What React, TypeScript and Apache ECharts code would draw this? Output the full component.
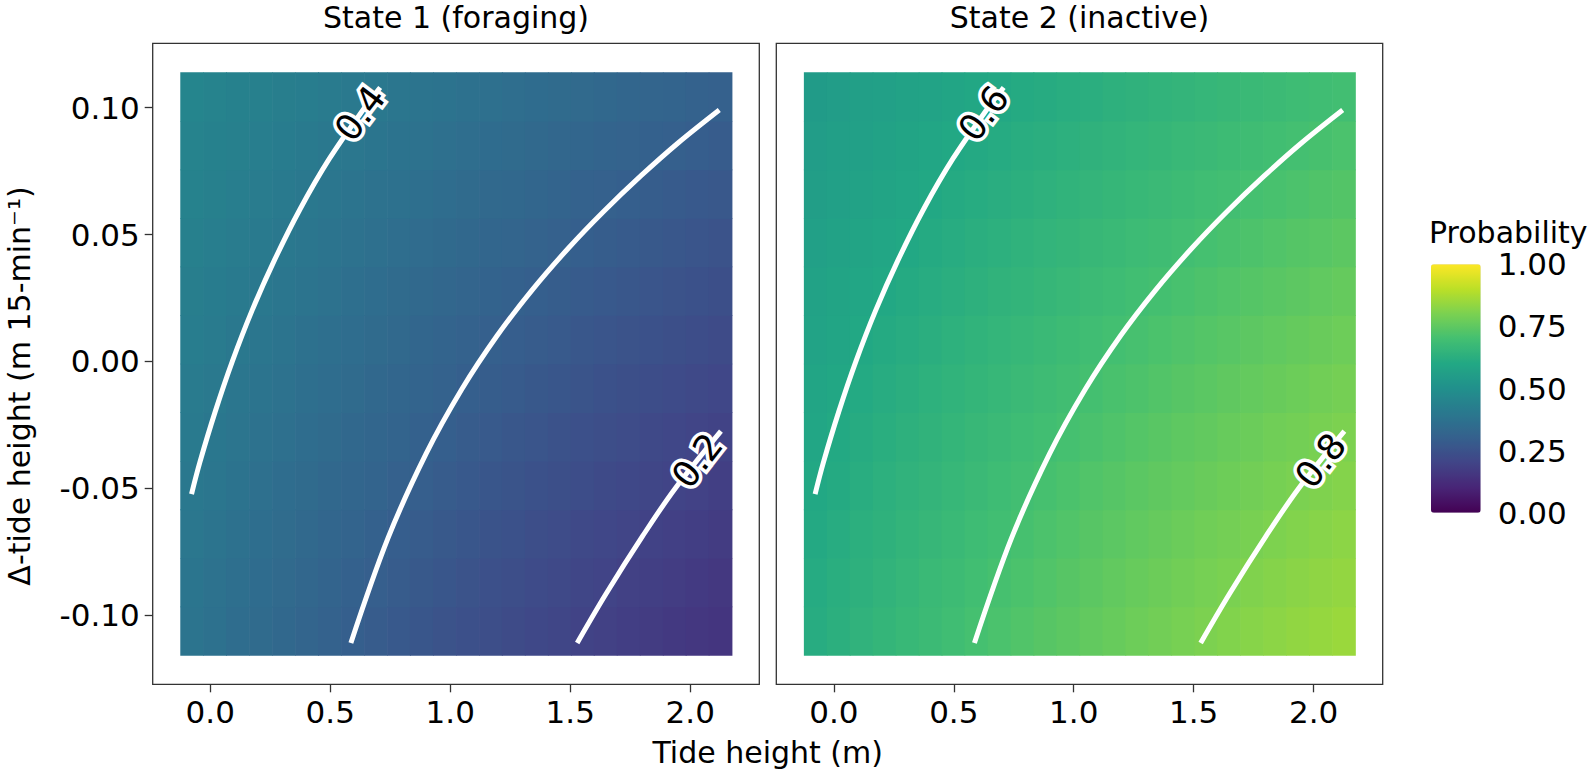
import React, { useEffect, useRef } from "react";
import * as echarts from "echarts";

// ---------------- data ----------------
const panelTitles = ["State 1 (foraging)", "State 2 (inactive)"];
const xTicks = [0, 0.5, 1, 1.5, 2];
const yTicks = [-0.1, -0.05, 0, 0.05, 0.1];
const legendTicks = [0, 0.25, 0.5, 0.75, 1];

// raster cell centres (tide height, delta tide height)
const xCenters = [-0.077, 0.019, 0.114, 0.21, 0.306, 0.402, 0.497, 0.593, 0.689, 0.785, 0.88, 0.976, 1.072, 1.168, 1.263, 1.359, 1.455, 1.551, 1.646, 1.742, 1.838, 1.934, 2.029, 2.125];
const yCenters = [-0.1062, -0.0871, -0.0679, -0.0488, -0.0296, -0.0105, 0.0087, 0.0278, 0.047, 0.0661, 0.0852, 0.1044];

// probability of state 1 (rows follow yCenters, columns follow xCenters)
const state1Rows = [
  [0.382, 0.369, 0.356, 0.344, 0.332, 0.32, 0.308, 0.297, 0.286, 0.275, 0.264, 0.254, 0.244, 0.234, 0.224, 0.215, 0.206, 0.197, 0.189, 0.18, 0.173, 0.165, 0.158, 0.151],
  [0.388, 0.376, 0.364, 0.352, 0.34, 0.328, 0.317, 0.306, 0.295, 0.285, 0.274, 0.264, 0.254, 0.244, 0.235, 0.226, 0.217, 0.208, 0.2, 0.191, 0.183, 0.176, 0.168, 0.161],
  [0.394, 0.383, 0.371, 0.36, 0.348, 0.337, 0.326, 0.315, 0.305, 0.294, 0.284, 0.274, 0.264, 0.255, 0.246, 0.237, 0.228, 0.219, 0.211, 0.203, 0.195, 0.187, 0.18, 0.173],
  [0.401, 0.39, 0.378, 0.367, 0.356, 0.346, 0.335, 0.325, 0.315, 0.304, 0.295, 0.285, 0.275, 0.266, 0.257, 0.248, 0.24, 0.231, 0.223, 0.215, 0.207, 0.199, 0.192, 0.185],
  [0.407, 0.397, 0.386, 0.375, 0.365, 0.355, 0.344, 0.334, 0.325, 0.315, 0.305, 0.296, 0.287, 0.278, 0.269, 0.26, 0.251, 0.243, 0.235, 0.227, 0.219, 0.212, 0.204, 0.197],
  [0.414, 0.403, 0.393, 0.383, 0.373, 0.363, 0.354, 0.344, 0.335, 0.325, 0.316, 0.307, 0.298, 0.289, 0.281, 0.272, 0.264, 0.256, 0.248, 0.24, 0.232, 0.225, 0.217, 0.21],
  [0.42, 0.411, 0.401, 0.391, 0.382, 0.372, 0.363, 0.354, 0.345, 0.336, 0.327, 0.318, 0.31, 0.301, 0.293, 0.285, 0.277, 0.269, 0.261, 0.253, 0.246, 0.239, 0.231, 0.224],
  [0.427, 0.418, 0.409, 0.399, 0.39, 0.382, 0.373, 0.364, 0.355, 0.347, 0.338, 0.33, 0.322, 0.314, 0.306, 0.298, 0.29, 0.282, 0.275, 0.267, 0.26, 0.253, 0.246, 0.239],
  [0.433, 0.425, 0.416, 0.408, 0.399, 0.391, 0.382, 0.374, 0.366, 0.358, 0.35, 0.342, 0.334, 0.326, 0.319, 0.311, 0.303, 0.296, 0.289, 0.282, 0.274, 0.267, 0.261, 0.254],
  [0.44, 0.432, 0.424, 0.416, 0.408, 0.4, 0.392, 0.384, 0.377, 0.369, 0.361, 0.354, 0.346, 0.339, 0.332, 0.324, 0.317, 0.31, 0.303, 0.296, 0.29, 0.283, 0.276, 0.27],
  [0.447, 0.439, 0.432, 0.424, 0.417, 0.409, 0.402, 0.395, 0.387, 0.38, 0.373, 0.366, 0.359, 0.352, 0.345, 0.338, 0.331, 0.325, 0.318, 0.311, 0.305, 0.299, 0.292, 0.286],
  [0.453, 0.446, 0.439, 0.432, 0.426, 0.419, 0.412, 0.405, 0.398, 0.392, 0.385, 0.378, 0.372, 0.365, 0.359, 0.352, 0.346, 0.34, 0.333, 0.327, 0.321, 0.315, 0.309, 0.303],
];

// probability of state 2
const state2Rows = [
  [0.618, 0.631, 0.644, 0.656, 0.668, 0.68, 0.692, 0.703, 0.714, 0.725, 0.736, 0.746, 0.756, 0.766, 0.776, 0.785, 0.794, 0.803, 0.811, 0.82, 0.827, 0.835, 0.842, 0.849],
  [0.612, 0.624, 0.636, 0.648, 0.66, 0.672, 0.683, 0.694, 0.705, 0.715, 0.726, 0.736, 0.746, 0.756, 0.765, 0.774, 0.783, 0.792, 0.8, 0.809, 0.817, 0.824, 0.832, 0.839],
  [0.606, 0.617, 0.629, 0.64, 0.652, 0.663, 0.674, 0.685, 0.695, 0.706, 0.716, 0.726, 0.736, 0.745, 0.754, 0.763, 0.772, 0.781, 0.789, 0.797, 0.805, 0.813, 0.82, 0.827],
  [0.599, 0.61, 0.622, 0.633, 0.644, 0.654, 0.665, 0.675, 0.685, 0.696, 0.705, 0.715, 0.725, 0.734, 0.743, 0.752, 0.76, 0.769, 0.777, 0.785, 0.793, 0.801, 0.808, 0.815],
  [0.593, 0.603, 0.614, 0.625, 0.635, 0.645, 0.656, 0.666, 0.675, 0.685, 0.695, 0.704, 0.713, 0.722, 0.731, 0.74, 0.749, 0.757, 0.765, 0.773, 0.781, 0.788, 0.796, 0.803],
  [0.586, 0.597, 0.607, 0.617, 0.627, 0.637, 0.646, 0.656, 0.665, 0.675, 0.684, 0.693, 0.702, 0.711, 0.719, 0.728, 0.736, 0.744, 0.752, 0.76, 0.768, 0.775, 0.783, 0.79],
  [0.58, 0.589, 0.599, 0.609, 0.618, 0.628, 0.637, 0.646, 0.655, 0.664, 0.673, 0.682, 0.69, 0.699, 0.707, 0.715, 0.723, 0.731, 0.739, 0.747, 0.754, 0.761, 0.769, 0.776],
  [0.573, 0.582, 0.591, 0.601, 0.61, 0.618, 0.627, 0.636, 0.645, 0.653, 0.662, 0.67, 0.678, 0.686, 0.694, 0.702, 0.71, 0.718, 0.725, 0.733, 0.74, 0.747, 0.754, 0.761],
  [0.567, 0.575, 0.584, 0.592, 0.601, 0.609, 0.618, 0.626, 0.634, 0.642, 0.65, 0.658, 0.666, 0.674, 0.681, 0.689, 0.697, 0.704, 0.711, 0.718, 0.726, 0.733, 0.739, 0.746],
  [0.56, 0.568, 0.576, 0.584, 0.592, 0.6, 0.608, 0.616, 0.623, 0.631, 0.639, 0.646, 0.654, 0.661, 0.668, 0.676, 0.683, 0.69, 0.697, 0.704, 0.71, 0.717, 0.724, 0.73],
  [0.553, 0.561, 0.568, 0.576, 0.583, 0.591, 0.598, 0.605, 0.613, 0.62, 0.627, 0.634, 0.641, 0.648, 0.655, 0.662, 0.669, 0.675, 0.682, 0.689, 0.695, 0.701, 0.708, 0.714],
  [0.547, 0.554, 0.561, 0.568, 0.574, 0.581, 0.588, 0.595, 0.602, 0.608, 0.615, 0.622, 0.628, 0.635, 0.641, 0.648, 0.654, 0.66, 0.667, 0.673, 0.679, 0.685, 0.691, 0.697],
];

// contour lines (same positions in both panels)
const contourAX = [-0.078, -0.044, 0.02, 0.092, 0.174, 0.268, 0.374, 0.497, 0.643, 0.708];
const contourAY = [-0.0523, -0.04, -0.02, 0.0, 0.02, 0.04, 0.06, 0.08, 0.1, 0.108];
const contourBX = [0.586, 0.741, 0.899, 1.048, 1.195, 1.341, 1.493, 1.638, 1.795, 1.948, 2.121];
const contourBY = [-0.111, -0.0696, -0.0365, -0.011, 0.0101, 0.0281, 0.0447, 0.059, 0.0732, 0.086, 0.0991];
const contourCX = [1.529, 1.65, 1.802, 1.938, 2.128];
const contourCY = [-0.111, -0.0915, -0.0688, -0.05, -0.0275];
const levels1 = [0.4, 0.3, 0.2];
const levels2 = [0.6, 0.7, 0.8];

// contour labels: which contour, where, angle
const labelContour = [0, 2];
const labelX = [0.624, 2.029];
const labelY = [0.0978, -0.0391];
const labelAngle = [53, 52];

const viridis = ["#440154", "#482576", "#414487", "#35608D", "#2A788E", "#21908C", "#22A884", "#43BF71", "#7AD151", "#BBDF27", "#FDE725"];

// ---------------- layout ----------------
const FONT = "DejaVu Sans";
const X_MIN = -0.2398, X_MAX = 2.2878;
const Y_MIN = -0.1273, Y_MAX = 0.1254;
const PANELS = [
  { left: 152.7, top: 43.3, width: 606.6, height: 641 },
  { left: 776.3, top: 43.3, width: 606.4, height: 641 },
];
const BAR = { left: 1431, top: 264.3, width: 49.7, height: 248.4 };

function buildOption() {
  const dx = (xCenters[xCenters.length - 1] - xCenters[0]) / (xCenters.length - 1);
  const dy = (yCenters[yCenters.length - 1] - yCenters[0]) / (yCenters.length - 1);
  const cells = (rows: number[][]) => {
    const out: number[][] = [];
    rows.forEach((row, k) => row.forEach((v, i) => out.push([xCenters[i], yCenters[k], v])));
    return out;
  };
  const cellRender = (params: any, api: any) => {
    const x = api.value(0);
    const y = api.value(1);
    const p0 = api.coord([x - dx / 2, y + dy / 2]);
    const p1 = api.coord([x + dx / 2, y - dy / 2]);
    return {
      type: "rect",
      shape: { x: p0[0], y: p0[1], width: p1[0] - p0[0] + 0.7, height: p1[1] - p0[1] + 0.7 },
      style: { fill: api.visual("color") },
    };
  };
  const contours = [
    [contourAX, contourAY],
    [contourBX, contourBY],
    [contourCX, contourCY],
  ];

  const grid: any[] = PANELS.map((p) => ({
    left: p.left, top: p.top, width: p.width, height: p.height,
    show: true, borderColor: "#333333", borderWidth: 1.3, backgroundColor: "#ffffff",
  }));
  grid.push({ left: BAR.left, top: BAR.top, width: BAR.width, height: BAR.height, show: false });

  const xAxis: any[] = PANELS.map((_, g) => ({
    type: "value", gridIndex: g, min: X_MIN, max: X_MAX,
    axisLine: { show: false, onZero: false },
    splitLine: { show: false },
    axisTick: { show: true, length: 8, lineStyle: { color: "#333333", width: 1.3 }, customValues: xTicks },
    axisLabel: { show: true, customValues: xTicks, formatter: (v: number) => v.toFixed(1), color: "#000", fontSize: 31, fontFamily: FONT, margin: 12 },
  }));
  xAxis.push({ type: "value", gridIndex: 2, min: 0, max: 1, show: false });

  const yAxis: any[] = PANELS.map((_, g) => ({
    type: "value", gridIndex: g, min: Y_MIN, max: Y_MAX,
    axisLine: { show: false, onZero: false },
    splitLine: { show: false },
    axisTick: { show: g === 0, length: 8, lineStyle: { color: "#333333", width: 1.3 }, customValues: yTicks },
    axisLabel: { show: g === 0, customValues: yTicks, formatter: (v: number) => v.toFixed(2), color: "#000", fontSize: 31, fontFamily: FONT, margin: 13 },
  }));
  yAxis.push({
    type: "value", gridIndex: 2, min: 0, max: 1, interval: 0.25, position: "right",
    axisLine: { show: false }, splitLine: { show: false },
    axisTick: { show: true, inside: true, length: 10, lineStyle: { color: "#ffffff", width: 1.3 }, customValues: legendTicks },
    axisLabel: { show: true, customValues: legendTicks, formatter: (v: number) => v.toFixed(2), color: "#000", fontSize: 31, fontFamily: FONT, margin: 17 },
  });
  yAxis.push({
    type: "value", gridIndex: 2, min: 0, max: 1, interval: 0.25, position: "left",
    axisLine: { show: false }, splitLine: { show: false },
    axisTick: { show: true, inside: true, length: 10, lineStyle: { color: "#ffffff", width: 1.3 }, customValues: legendTicks },
    axisLabel: { show: false },
  });

  const series: any[] = [];
  [state1Rows, state2Rows].forEach((rows, g) => {
    series.push({
      type: "custom", xAxisIndex: g, yAxisIndex: g, renderItem: cellRender,
      data: cells(rows), encode: { x: 0, y: 1 }, z: 2, silent: true,
    });
  });
  [levels1, levels2].forEach((levels, g) => {
    contours.forEach(([cx, cy], c) => {
      series.push({
        type: "line", name: "contour " + levels[c], xAxisIndex: g, yAxisIndex: g,
        data: cx.map((x, i) => [x, cy[i]]), smooth: 0.35, symbol: "none", showSymbol: false,
        lineStyle: { color: "#ffffff", width: 5 }, z: 3, silent: true,
      });
    });
    series.push({
      type: "custom", xAxisIndex: g, yAxisIndex: g, z: 5, silent: true,
      data: labelX.map((x, j) => [x, labelY[j], j]), encode: { x: 0, y: 1 },
      renderItem: (params: any, api: any) => {
        const j = api.value(2);
        const pt = api.coord([api.value(0), api.value(1)]);
        return {
          type: "text", x: pt[0], y: pt[1], rotation: (labelAngle[j] * Math.PI) / 180,
          style: {
            text: String(levels[labelContour[j]]), fill: "#000", stroke: "#ffffff", lineWidth: 7,
            fontSize: 36, fontFamily: FONT, align: "center", verticalAlign: "middle",
            textAlign: "center", textVerticalAlign: "middle",
          },
        };
      },
    });
  });

  const txt = (text: string, x: number, y: number, size: number, align = "center", rotation = 0) => ({
    type: "text", x, y, rotation, silent: true,
    style: { text, fill: "#000", fontSize: size, fontFamily: FONT, align, verticalAlign: "middle", textAlign: align, textVerticalAlign: "middle" },
  });

  const graphic = [
    txt(panelTitles[0], PANELS[0].left + PANELS[0].width / 2, 17, 30),
    txt(panelTitles[1], PANELS[1].left + PANELS[1].width / 2, 17, 30),
    txt("Tide height (m)", (PANELS[0].left + PANELS[1].left + PANELS[1].width) / 2, 752, 30),
    txt("Δ-tide height (m 15-min⁻¹)", 19, 386, 30, "center", Math.PI / 2),
    txt("Probability", 1429, 232, 30, "left"),
  ];

  return {
    animation: false,
    backgroundColor: "#ffffff",
    grid, xAxis, yAxis, series, graphic,
    visualMap: {
      type: "continuous", min: 0, max: 1, dimension: 2, seriesIndex: [0, 1],
      inRange: { color: viridis }, orient: "vertical",
      left: BAR.left, top: BAR.top, itemWidth: BAR.width, itemHeight: BAR.height,
      padding: 0, calculable: false, hoverLink: false, show: true,
    },
  };
}

export default function App() {
  const ref = useRef<HTMLDivElement>(null);
  useEffect(() => {
    if (!ref.current) return;
    const chart = echarts.init(ref.current, undefined, { renderer: "svg" });
    chart.setOption(buildOption() as any);
    return () => chart.dispose();
  }, []);
  return <div ref={ref} style={{ position: "fixed", left: 0, top: 0, width: 1592, height: 774, background: "#fff" }} />;
}
